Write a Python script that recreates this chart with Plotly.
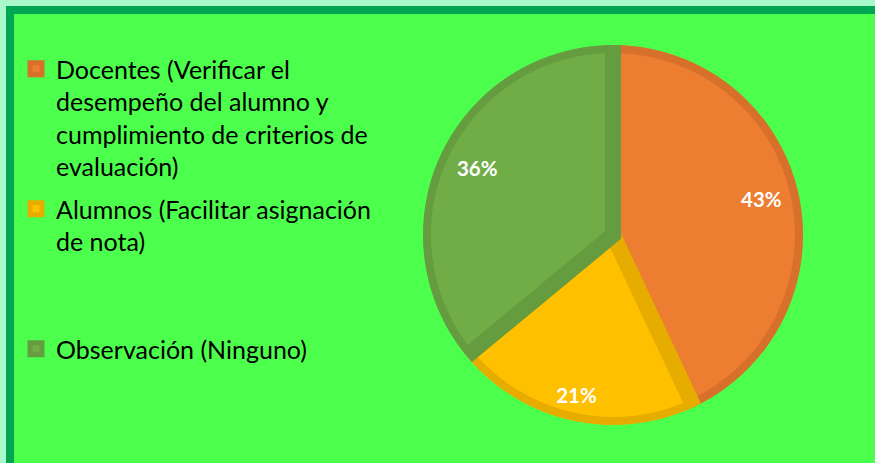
import plotly.graph_objects as go

# Data
categories = [
    "Docentes (Verificar el<br>desempeño del alumno y<br>cumplimiento de criterios de<br>evaluación)",
    "Alumnos (Facilitar asignación<br>de nota)",
    "Observación (Ninguno)",
]
values = [43, 21, 36]

# Styles
fill_colors = ["#ED7D31", "#FFC000", "#70AD47"]
edge_colors = ["#D7702B", "#E6AD00", "#659C40"]
W, H = 875, 463

# Pie geometry in pixels (centre and outer radius)
cx, cy, rad = 613, 235, 190
dom_x = [(cx - rad) / W, (cx + rad) / W]
dom_y = [(H - cy - rad) / H, (H - cy + rad) / H]

# Legend entries (except the last) occupy four text lines so they spread evenly
legend_lines = 4

total = sum(values)
fig = go.Figure()

# Slices drawn as polar bars: angular span and centre come from the values
start = 0
for i, (name, v, fc, ec) in enumerate(zip(categories, values, fill_colors, edge_colors)):
    span = v / total * 360
    n_lines = name.count("<br>") + 1
    label = name
    if i < len(categories) - 1:
        label += "<br>&nbsp;" * (legend_lines - n_lines)
    fig.add_trace(go.Barpolar(
        r=[1], base=[0],
        theta=[start + span / 2], width=[span],
        name=label, legendgroup=name,
        marker=dict(color=fc, line=dict(color=ec, width=16)),
        hovertemplate=f"{v}%<extra></extra>",
    ))
    start += span

# Percentage labels inside each slice
mid_angles = []
acc = 0
for v in values:
    mid_angles.append((acc + v / 2) / total * 360)
    acc += v
label_r = [0.80, 0.88, 0.79]
fig.add_trace(go.Scatterpolar(
    r=label_r,
    theta=mid_angles,
    mode="text",
    text=[f"{round(v / total * 100)}%" for v in values],
    textfont=dict(family="Lato", size=20.5, color="white", weight="bold"),
    showlegend=False,
    hoverinfo="skip",
))

fig.update_layout(
    width=W, height=H,
    margin=dict(l=0, r=0, t=0, b=0),
    paper_bgcolor="#A9F8C9",
    font=dict(family="Lato", color="black"),
    polar=dict(
        domain=dict(x=dom_x, y=dom_y),
        bgcolor="rgba(0,0,0,0)",
        radialaxis=dict(range=[0, 1], visible=False),
        angularaxis=dict(rotation=90, direction="clockwise", visible=False),
    ),
    legend=dict(
        x=16 / W, y=1 - 46 / H, xanchor="left", yanchor="top",
        font=dict(family="Lato", size=25, color="black"),
        valign="top",
        tracegroupgap=7,
        bgcolor="rgba(0,0,0,0)",
        itemclick=False,
    ),
    shapes=[dict(
        type="rect", xref="paper", yref="paper", layer="below",
        x0=10 / W, x1=1.05, y0=-0.05, y1=1 - 10 / H,
        line=dict(color="#00A651", width=8),
        fillcolor="#4CFF4C",
    )],
)

fig.write_html("out.html")
